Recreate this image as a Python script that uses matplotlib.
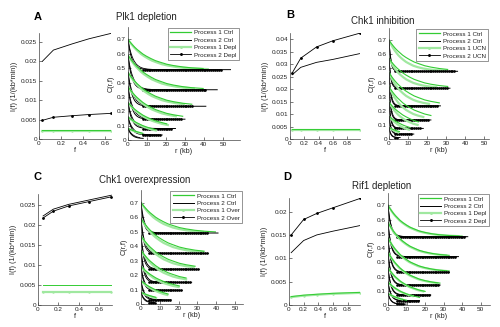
import numpy as np
import matplotlib
matplotlib.use("Agg")
import matplotlib.pyplot as plt
from matplotlib.lines import Line2D

plt.rcParams['font.family'] = ['Liberation Sans', 'DejaVu Sans']

# ---------------- data ----------------
# normalized decay shape of a correlation curve (u = r / decay length)
decay_u = [0, 0.1, 0.2, 0.3, 0.4, 0.5, 0.65, 0.8, 1.0, 1.2, 1.4, 1.7, 2.0, 2.4, 2.8, 3.3, 4.0, 5.0, 6.5, 9.0]
decay_v = [1, 0.905, 0.82, 0.74, 0.67, 0.61, 0.52, 0.45, 0.37, 0.30, 0.25, 0.18, 0.135, 0.09, 0.06, 0.037, 0.018, 0.007, 0.0015, 0.0]

panel_letters = ["A", "B", "C", "D"]
panel_titles = ["Plk1 depletion", "Chk1 inhibition", "Chk1 overexpression", "Rif1 depletion"]
treat_names = ["Depl", "UCN", "Over", "Depl"]

# left plots: I(f)
A_f = [0.03, 0.13, 0.3, 0.45, 0.65]
A_p1_ctrl = [0.0022, 0.0022, 0.0022, 0.0022, 0.0022]
A_p1_trt = [0.0021, 0.0021, 0.0021, 0.0021, 0.0021]
A_p2_ctrl = [0.0200, 0.0229, 0.0245, 0.0258, 0.0272]
A_p2_trt = [0.0048, 0.0056, 0.0060, 0.0063, 0.0066]

B_f = [0.03, 0.15, 0.37, 0.6, 0.97]
B_p1_ctrl = [0.0042, 0.0042, 0.0042, 0.0042, 0.0042]
B_p1_trt = [0.0035, 0.0035, 0.0035, 0.0035, 0.0035]
B_p2_ctrl = [0.0258, 0.0288, 0.0308, 0.0320, 0.0343]
B_p2_trt = [0.0265, 0.0325, 0.0370, 0.0395, 0.0425]

C_f = [0.05, 0.15, 0.3, 0.5, 0.72]
C_p1_ctrl = [0.0050, 0.0050, 0.0050, 0.0050, 0.0050]
C_p1_trt = [0.0033, 0.0033, 0.0033, 0.0033, 0.0033]
C_p2_ctrl = [0.0223, 0.0240, 0.0252, 0.0263, 0.0275]
C_p2_trt = [0.0218, 0.0235, 0.0248, 0.0259, 0.0271]

D_f = [0.03, 0.2, 0.38, 0.6, 0.97]
D_p1_ctrl = [0.0018, 0.0021, 0.0023, 0.0025, 0.0027]
D_p1_trt = [0.0017, 0.0020, 0.0022, 0.0024, 0.0026]
D_p2_ctrl = [0.0112, 0.0138, 0.0150, 0.0158, 0.0170]
D_p2_trt = [0.0150, 0.0183, 0.0196, 0.0208, 0.0228]

# right plots: C(r,f) -- start value at r=0, plateau, end r of each curve, decay length (kb)
A_start = [0.70, 0.59, 0.47, 0.37, 0.26, 0.16, 0.08]
A_plat = [0.49, 0.35, 0.235, 0.145, 0.08, 0.035, 0.01]
A_end = {"p1c": [47, 40, 35, 29, 23, 16, 8], "p2c": [54, 47, 41, 30, 25, 18, 8],
         "p1t": [46, 39, 34, 28, 22, 15, 7], "p2t": [49, 41, 34, 28, 23, 17, 7]}
A_len = {"p1c": 12.0, "p2c": 2.0, "p1t": 10.5, "p2t": 2.6}

B_start = [0.70, 0.57, 0.47, 0.37, 0.26, 0.16, 0.08]
B_plat = [0.48, 0.36, 0.235, 0.135, 0.075, 0.035, 0.01]
B_end = {"p1c": [36, 31, 27, 22, 18, 13, 6], "p2c": [36, 32, 27, 22, 18, 13, 6],
         "p1t": [33, 29, 24, 20, 16, 12, 5], "p2t": [35, 31, 26, 21, 17, 12, 5]}
B_len = {"p1c": 11.0, "p2c": 0.9, "p1t": 7.5, "p2t": 1.1}

C_start = [0.70, 0.59, 0.47, 0.37, 0.26, 0.16, 0.08]
C_plat = [0.49, 0.35, 0.24, 0.15, 0.095, 0.03, 0.01]
C_end = {"p1c": [40, 35, 31, 26, 22, 16, 9], "p2c": [41, 30, 28, 18, 20, 14, 8],
         "p1t": [39, 34, 30, 25, 21, 15, 8], "p2t": [36, 36, 31, 27, 22, 16, 8]}
C_len = {"p1c": 12.0, "p2c": 1.8, "p1t": 10.0, "p2t": 1.4}

D_start = [0.70, 0.58, 0.47, 0.37, 0.26, 0.16, 0.08]
D_plat = [0.48, 0.34, 0.23, 0.14, 0.07, 0.03, 0.006]
D_end = {"p1c": [42, 37, 33, 28, 23, 17, 10], "p2c": [43, 38, 33, 28, 23, 17, 10],
         "p1t": [41, 36, 32, 27, 22, 16, 9], "p2t": [42, 37, 33, 28, 23, 17, 9]}
D_len = {"p1c": 10.0, "p2c": 1.5, "p1t": 9.5, "p2t": 1.7}

left_data = [
    (A_f, A_p1_ctrl, A_p1_trt, A_p2_ctrl, A_p2_trt),
    (B_f, B_p1_ctrl, B_p1_trt, B_p2_ctrl, B_p2_trt),
    (C_f, C_p1_ctrl, C_p1_trt, C_p2_ctrl, C_p2_trt),
    (D_f, D_p1_ctrl, D_p1_trt, D_p2_ctrl, D_p2_trt),
]
right_data = [
    (A_start, A_plat, A_end, A_len),
    (B_start, B_plat, B_end, B_len),
    (C_start, C_plat, C_end, C_len),
    (D_start, D_plat, D_end, D_len),
]

# ---------------- layout / style ----------------
W, H = 500, 327
def fr(x0, x1, ytop, ybot):
    return [x0 / W, 1 - ybot / H, (x1 - x0) / W, (ybot - ytop) / H]

left_pos = [fr(39, 111, 33, 139), fr(290, 360, 33, 139), fr(38, 112, 194, 305), fr(289, 360, 198, 305)]
right_pos = [fr(128, 240, 27, 140), fr(389, 489, 28, 139), fr(141, 243, 190, 304), fr(388, 490, 193, 305)]
left_xlim = [0.65, 0.976, 0.725, 0.97]
left_ylim = [0.0273, 0.0426, 0.0278, 0.0229]
left_ticks = [[0, 0.005, 0.01, 0.015, 0.02, 0.025], [0, 0.005, 0.01, 0.015, 0.02, 0.025, 0.03, 0.035, 0.04],
              [0, 0.005, 0.01, 0.015, 0.02, 0.025], [0, 0.005, 0.01, 0.015, 0.02]]
right_xlim = [59, 52.5, 54.3, 55]
right_ylim = 0.787

letter_xy = [(38, 17), (290, 15), (37, 177), (287, 177)]
title_xy = [(146, 17), (383, 21), (145, 180), (382, 186)]

G1 = "#33cc33"      # process 1 ctrl
G2 = "#a0e8a0"      # process 1 treatment
K = "black"
TXT = "#222222"

fig = plt.figure(figsize=(5.0, 3.27), dpi=100)

def style(ax):
    for s in ["top", "right"]:
        ax.spines[s].set_visible(False)
    for s in ["left", "bottom"]:
        ax.spines[s].set_linewidth(0.5)
        ax.spines[s].set_color("#444444")
    ax.tick_params(direction="in", length=2, width=0.5, labelsize=4.6, pad=1.5,
                   colors="#444444", labelcolor=TXT)

def curve(s, p, e, L):
    rr, yy = [], []
    for u, v in zip(decay_u, decay_v):
        r = u * L
        if r > e:
            break
        rr.append(r)
        yy.append(p + (s - p) * v)
    if rr[-1] < e and decay_u[-1] * L <= e:
        rr.append(e)
        yy.append(p)
    return rr, yy

def fmt(v, pos):
    if v == 0:
        return "0"
    return ("%g" % v)

for i in range(4):
    # ---- left: I(f)
    ax = fig.add_axes(left_pos[i])
    style(ax)
    f, p1c, p1t, p2c, p2t = left_data[i]
    ax.plot(f, p1t, color=G2, lw=1.6, marker=".", ms=1.5)
    ax.plot(f, p1c, color=G1, lw=0.7)
    ax.plot(f, p2c, color=K, lw=0.6)
    ax.plot(f, p2t, color=K, lw=0.6, marker=".", ms=2)
    ax.set_xlim(0, left_xlim[i])
    ax.set_ylim(0, left_ylim[i])
    ax.set_yticks(left_ticks[i])
    ax.set_xticks([t for t in [0, 0.2, 0.4, 0.6, 0.8] if t <= left_xlim[i]])
    ax.xaxis.set_major_formatter(plt.FuncFormatter(fmt))
    ax.yaxis.set_major_formatter(plt.FuncFormatter(fmt))
    ax.set_xlabel("f", fontsize=5.2, labelpad=1, color=TXT)
    ax.set_ylabel("I(f) (1/(kb*min))", fontsize=5.2, labelpad=2, color=TXT)

    # ---- right: C(r,f)
    ax = fig.add_axes(right_pos[i])
    style(ax)
    st, pl, ends, lens = right_data[i]
    for k in range(len(st)):
        rr, yy = curve(st[k], pl[k], ends["p1t"][k], lens["p1t"])
        ax.plot(rr, yy, color=G2, lw=1.6)
        rr, yy = curve(st[k], pl[k], ends["p1c"][k], lens["p1c"])
        ax.plot(rr, yy, color=G1, lw=0.8)
        rr, yy = curve(st[k], pl[k], ends["p2c"][k], lens["p2c"])
        ax.plot(rr, yy, color=K, lw=0.7)
        rr, yy = curve(st[k], pl[k], ends["p2t"][k], lens["p2t"])
        ax.plot(rr, yy, color=K, lw=0.6)
        xm = np.arange(3 * lens["p2t"], ends["p2t"][k], 1.0)
        ax.plot(xm, np.full(len(xm), pl[k]), ls="none", marker=".", ms=1.8, color=K)
    ax.set_xlim(0, right_xlim[i])
    ax.set_ylim(0, right_ylim)
    ax.set_xticks([0, 10, 20, 30, 40, 50])
    ax.set_yticks([0, 0.1, 0.2, 0.3, 0.4, 0.5, 0.6, 0.7])
    ax.yaxis.set_major_formatter(plt.FuncFormatter(fmt))
    ax.set_xlabel("r (kb)", fontsize=5.2, labelpad=1, color=TXT)
    ax.set_ylabel("C(r,f)", fontsize=5.2, labelpad=2, color=TXT)
    tn = treat_names[i]
    handles = [Line2D([], [], color=G1, lw=0.9), Line2D([], [], color=K, lw=0.7),
               Line2D([], [], color=G2, lw=1.6, marker=".", ms=2.2),
               Line2D([], [], color=K, lw=0.6, marker=".", ms=2.2)]
    labels = ["Process 1 Ctrl", "Process 2 Ctrl", "Process 1 " + tn, "Process 2 " + tn]
    leg = ax.legend(handles, labels, loc="upper right", fontsize=4.5, frameon=True, fancybox=False,
                    borderaxespad=0.15, handlelength=3.4, borderpad=0.35, labelspacing=0.32,
                    handletextpad=0.5)
    leg.get_frame().set_edgecolor("#444444")
    leg.get_frame().set_linewidth(0.5)
    for t in leg.get_texts():
        t.set_color(TXT)

    fig.text(letter_xy[i][0] / W, 1 - letter_xy[i][1] / H, panel_letters[i], fontsize=8,
             fontweight="bold", ha="center", va="center")
    fig.text(title_xy[i][0] / W, 1 - title_xy[i][1] / H, panel_titles[i], fontsize=7,
             ha="center", va="center", color=TXT)

fig.savefig("out.png", dpi=100)
